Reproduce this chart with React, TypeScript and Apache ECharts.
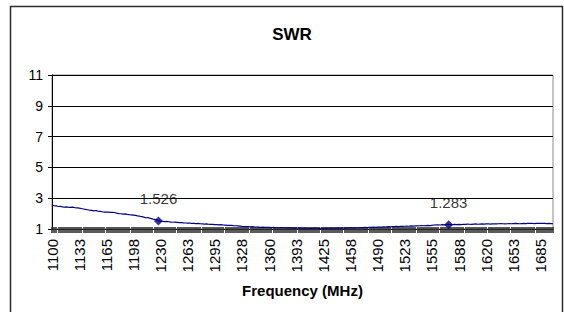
import React, { useEffect, useRef } from "react";
import * as echarts from "echarts";

// Sweep: 1100 MHz to 1700 MHz, 2.5 MHz step (241 points)
const startFreq = 1100;
const stepFreq = 2.5;
const pointCount = 241;
const freqs: number[] = [];
for (let i = 0; i < pointCount; i++) freqs.push(startFreq + i * stepFreq);
const categories: string[] = freqs.map((f) => String(Math.round(f)));

const swr: number[] = [
  2.55, 2.52, 2.50, 2.46, 2.47, 2.44, 2.42, 2.44, 2.41, 2.40, 2.42, 2.38, 2.37,
  2.36, 2.33, 2.30, 2.27, 2.25, 2.22, 2.21, 2.18, 2.20, 2.16, 2.15, 2.12, 2.10,
  2.10, 2.09, 2.08, 2.08, 2.07, 2.03, 2.00, 1.99, 1.97, 1.98, 1.95, 1.93, 1.92,
  1.90, 1.88, 1.85, 1.83, 1.80, 1.77, 1.73, 1.74, 1.70, 1.66, 1.62, 1.60, 1.526,
  1.51, 1.50, 1.48, 1.49, 1.47, 1.45, 1.44, 1.45, 1.43, 1.41, 1.42, 1.40, 1.39,
  1.38, 1.39, 1.37, 1.36, 1.35, 1.36, 1.34, 1.33, 1.32, 1.33, 1.31, 1.30, 1.30,
  1.29, 1.28, 1.27, 1.28, 1.26, 1.25, 1.24, 1.23, 1.24, 1.22, 1.21, 1.20, 1.19,
  1.17, 1.16, 1.16, 1.15, 1.14, 1.15, 1.13, 1.13, 1.12, 1.11, 1.12, 1.11, 1.10,
  1.10, 1.09, 1.10, 1.09, 1.08, 1.08, 1.09, 1.08, 1.07, 1.08, 1.07, 1.07, 1.06,
  1.07, 1.06, 1.06, 1.05, 1.06, 1.05, 1.05, 1.04, 1.05, 1.06, 1.05, 1.04, 1.05,
  1.05, 1.06, 1.05, 1.05, 1.06, 1.05, 1.06, 1.06, 1.05, 1.06, 1.07, 1.06, 1.07,
  1.07, 1.08, 1.07, 1.08, 1.08, 1.09, 1.09, 1.10, 1.09, 1.11, 1.10, 1.12, 1.11,
  1.12, 1.13, 1.12, 1.14, 1.13, 1.15, 1.14, 1.16, 1.15, 1.17, 1.16, 1.18, 1.17,
  1.18, 1.19, 1.18, 1.20, 1.19, 1.21, 1.20, 1.21, 1.22, 1.21, 1.22, 1.23, 1.22,
  1.24, 1.26, 1.27, 1.27, 1.26, 1.28, 1.27, 1.28, 1.283, 1.29, 1.28, 1.30, 1.29,
  1.30, 1.29, 1.31, 1.30, 1.32, 1.31, 1.30, 1.32, 1.33, 1.31, 1.32, 1.33, 1.32,
  1.33, 1.34, 1.32, 1.33, 1.34, 1.33, 1.34, 1.35, 1.34, 1.33, 1.34, 1.35, 1.34,
  1.35, 1.36, 1.35, 1.34, 1.35, 1.36, 1.35, 1.36, 1.37, 1.36, 1.35, 1.36, 1.37,
  1.36, 1.37, 1.36, 1.35, 1.36, 1.35, 1.34,
];

const markerFreqs: number[] = [1227.5, 1575];
const markerValues: number[] = [1.526, 1.283];

const yTicks: number[] = [1, 3, 5, 7, 9, 11];

export default function App() {
  const ref = useRef<HTMLDivElement>(null);
  useEffect(() => {
    if (!ref.current) return;
    const chart = echarts.init(ref.current, null, { renderer: "svg" });
    const font = "'Liberation Sans', Arial, sans-serif";
    const markerData = markerFreqs.map((f, k) => [freqs.indexOf(f), markerValues[k]]);
    chart.setOption({
      animation: false,
      backgroundColor: "#ffffff",
      title: {
        text: "SWR",
        left: 287,
        top: 21,
        textAlign: "center",
        textStyle: { fontFamily: font, fontSize: 17, fontWeight: "bold", color: "#000" },
      },
      grid: {
        left: 52,
        right: 11,
        top: 75,
        bottom: 83,
        show: true,
        borderColor: "#8a8a8a",
        borderWidth: 1,
        backgroundColor: "transparent",
      },
      xAxis: [
        {
          type: "category",
          data: categories,
          boundaryGap: false,
          name: "Frequency (MHz)",
          nameLocation: "middle",
          nameGap: 54,
          nameTextStyle: { fontFamily: font, fontSize: 15, fontWeight: "bold", color: "#000" },
          axisLine: { show: true, lineStyle: { color: "#000", width: 1 } },
          axisTick: { show: true, interval: 0, length: 4, lineStyle: { color: "#333", width: 1.6 } },
          axisLabel: {
            interval: 12,
            rotate: 90,
            margin: 10,
            fontFamily: font,
            fontSize: 15,
            color: "#000",
          },
          splitLine: { show: false },
        },
        {
          type: "category",
          data: categories,
          boundaryGap: false,
          position: "bottom",
          axisLine: { show: false },
          axisTick: { show: true, inside: true, interval: 0, length: 2, lineStyle: { color: "#333", width: 1.6 } },
          axisLabel: { show: false },
          splitLine: { show: false },
        },
      ],
      yAxis: {
        type: "value",
        min: yTicks[0],
        max: yTicks[yTicks.length - 1],
        interval: 2,
        axisLine: { show: true, lineStyle: { color: "#000", width: 1 } },
        axisTick: { show: true, length: 4, lineStyle: { color: "#000" } },
        axisLabel: { fontFamily: font, fontSize: 14, color: "#000", margin: 9 },
        splitLine: { show: true, lineStyle: { color: "#000", width: 1 } },
      },
      series: [
        {
          type: "line",
          data: swr,
          showSymbol: false,
          symbol: "none",
          lineStyle: { color: "#000080", width: 1.2 },
          z: 3,
        },
        {
          type: "scatter",
          data: markerData,
          symbol: "diamond",
          symbolSize: 9,
          itemStyle: { color: "#000080" },
          label: {
            show: true,
            position: "top",
            distance: 10,
            fontFamily: font,
            fontSize: 15,
            color: "#000",
            formatter: (p: any) => p.value[1].toFixed(3),
          },
          z: 4,
        },
      ],
      graphic: [
        {
          type: "rect",
          shape: { x: 10.5, y: 6.5, width: 552, height: 320 },
          style: { fill: "none", stroke: "#2a2a2a", lineWidth: 1.5 },
          silent: true,
        },
      ],
    });
    return () => chart.dispose();
  }, []);
  return (
    <div
      ref={ref}
      style={{ position: "fixed", left: 0, top: 0, width: 564, height: 312 }}
    />
  );
}
